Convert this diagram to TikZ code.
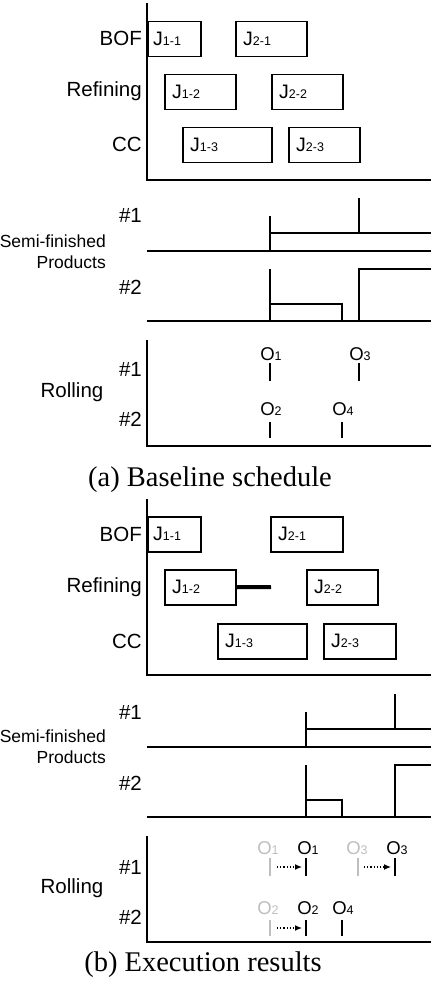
\documentclass[tikz,border=0pt]{standalone}
\usepackage{fontspec}
\setmainfont{Liberation Serif}
\setsansfont{Liberation Sans}
\usepackage{tikz}
\usetikzlibrary{arrows.meta}
\definecolor{ghostgray}{RGB}{190,190,190}
\newcommand{\sbs}[1]{{\fontsize{12.5}{12.5}\selectfont #1}}
\tikzset{
  baseaxis/.style={line width=2pt},
  jobbox/.style={draw, line width=1.5pt, anchor=north west, minimum height=35pt, inner sep=0pt},
  jtext/.style={anchor=west, xshift=8pt, inner sep=0pt, font=\sffamily\fontsize{19.5}{19.5}\selectfont},
  rowlab/.style={anchor=east, inner sep=0pt, font=\sffamily\fontsize{20.5}{20.5}\selectfont},
  semilab/.style={anchor=east, inner sep=0pt, align=right, font=\sffamily\fontsize{17.5}{21}\selectfont},
  stock/.style={line width=1.3pt},
  olab/.style={inner sep=0pt, font=\sffamily\fontsize{18.5}{18.5}\selectfont},
  otick/.style={line width=1.6pt},
  ghost/.style={color=ghostgray},
  delay/.style={dotted, line width=1.2pt, -{Latex[length=7pt,width=6pt]}},
  capt/.style={inner sep=0pt, font=\fontsize{28.5}{28.5}\selectfont}
}

\begin{document}
\begin{tikzpicture}[x=1pt,y=-1pt]
\useasboundingbox (0,0) rectangle (432,992);

% (a) baseline schedule
\draw[baseaxis] (147,3) -- (147,180) -- (431,180);
\node[rowlab] (bofa) at (142,38) {BOF};
\node[rowlab] (refa) at (142,91) {Refining};
\node[rowlab] (cca) at (142,144) {CC};
\node[jobbox, minimum width=53pt] (j11a) at (147,21) {};
\node[jobbox, minimum width=71pt] (j21a) at (235,21) {};
\node[jobbox, minimum width=71pt] (j12a) at (164,74) {};
\node[jobbox, minimum width=71pt] (j22a) at (271,74) {};
\node[jobbox, minimum width=89pt] (j13a) at (182,127) {};
\node[jobbox, minimum width=71pt] (j23a) at (288,127) {};
\node[jtext, xshift=-2pt] at (j11a.west) {J\sbs{1-1}};
\node[jtext] at (j21a.west) {J\sbs{2-1}};
\node[jtext] at (j12a.west) {J\sbs{1-2}};
\node[jtext] at (j22a.west) {J\sbs{2-2}};
\node[jtext] at (j13a.west) {J\sbs{1-3}};
\node[jtext] at (j23a.west) {J\sbs{2-3}};

\node[rowlab] (s1a) at (142,215) {\#1};
\node[rowlab] (s2a) at (142,287) {\#2};
\node[semilab] (semia) at (106,252) {Semi-finished\\Products};
\draw[baseaxis] (147,251) -- (431,251);
\draw[baseaxis] (147,321) -- (431,321);
\draw[stock] (270,216) -- (270,251);
\draw[stock] (270,233) -- (431,233);
\draw[stock] (359,198) -- (359,233);
\draw[stock] (270,269) -- (270,321);
\draw[stock] (270,304) -| (342,321);
\draw[stock] (359,321) |- (431,269);

\draw[baseaxis] (147,340) -- (147,446) -- (431,446);
\node[rowlab] (r1a) at (142,369) {\#1};
\node[rowlab] (r2a) at (142,419) {\#2};
\node[rowlab, anchor=center] (rolla) at (72,392) {Rolling};
\node[olab] (o1a) at (271,354) {O\sbs{1}};
\node[olab] (o3a) at (360,354) {O\sbs{3}};
\node[olab] (o2a) at (271,409) {O\sbs{2}};
\node[olab] (o4a) at (343,409) {O\sbs{4}};
\draw[otick] (270,363) -- (270,381);
\draw[otick] (359,363) -- (359,381);
\draw[otick] (270,422) -- (270,438);
\draw[otick] (342,422) -- (342,438);
\node[capt] (capa) at (210,480) {(a) Baseline schedule};

% (b) execution results
\draw[baseaxis] (147,499) -- (147,675) -- (431,675);
\node[rowlab] (bofb) at (142,534) {BOF};
\node[rowlab] (refb) at (142,587) {Refining};
\node[rowlab] (ccb) at (142,641) {CC};
\node[jobbox, minimum width=53pt] (j11b) at (147,516) {};
\node[jobbox, minimum width=72pt] (j21b) at (270,516) {};
\node[jobbox, minimum width=71pt] (j12b) at (164,569) {};
\node[jobbox, minimum width=71pt] (j22b) at (306,569) {};
\node[jobbox, minimum width=89pt] (j13b) at (217,623) {};
\node[jobbox, minimum width=72pt] (j23b) at (323,623) {};
\node[jtext, xshift=-2pt] at (j11b.west) {J\sbs{1-1}};
\node[jtext] at (j21b.west) {J\sbs{2-1}};
\node[jtext] at (j12b.west) {J\sbs{1-2}};
\node[jtext] at (j22b.west) {J\sbs{2-2}};
\node[jtext] at (j13b.west) {J\sbs{1-3}};
\node[jtext] at (j23b.west) {J\sbs{2-3}};
\coordinate (waitend) at (271,587);
\draw[line width=4pt] (j12b.east) -- (waitend);

\node[rowlab] (s1b) at (142,712) {\#1};
\node[rowlab] (s2b) at (142,783) {\#2};
\node[semilab] (semib) at (106,747) {Semi-finished\\Products};
\draw[baseaxis] (147,747) -- (431,747);
\draw[baseaxis] (147,817) -- (431,817);
\draw[stock] (306,712) -- (306,747);
\draw[stock] (306,729) -- (431,729);
\draw[stock] (395,694) -- (395,729);
\draw[stock] (306,765) -- (306,817);
\draw[stock] (306,800) -| (342,817);
\draw[stock] (395,817) |- (431,765);

\draw[baseaxis] (147,836) -- (147,942) -- (431,942);
\node[rowlab] (r1b) at (142,867) {\#1};
\node[rowlab] (r2b) at (142,917) {\#2};
\node[rowlab, anchor=center] (rollb) at (72,888) {Rolling};
\node[olab, ghost] (o1g) at (268,848) {O\sbs{1}};
\node[olab] (o1b) at (308,848) {O\sbs{1}};
\node[olab, ghost] (o3g) at (357,848) {O\sbs{3}};
\node[olab] (o3b) at (397,848) {O\sbs{3}};
\node[olab, ghost] (o2g) at (268,908) {O\sbs{2}};
\node[olab] (o2b) at (308,908) {O\sbs{2}};
\node[olab] (o4b) at (343,908) {O\sbs{4}};
\draw[otick, ghost] (270,858) -- (270,876);
\draw[otick] (306,858) -- (306,876);
\draw[otick, ghost] (358,858) -- (358,876);
\draw[otick] (395,858) -- (395,876);
\draw[otick, ghost] (270,920) -- (270,936);
\draw[otick] (306,920) -- (306,936);
\draw[otick] (342,920) -- (342,936);
\coordinate (d1s) at (277,867);
\coordinate (d1e) at (302,867);
\coordinate (d3s) at (364,867);
\coordinate (d3e) at (391,867);
\coordinate (d2s) at (277,928);
\coordinate (d2e) at (302,928);
\draw[delay] (d1s) -- (d1e);
\draw[delay] (d3s) -- (d3e);
\draw[delay] (d2s) -- (d2e);
\node[capt] (capb) at (203,965) {(b) Execution results};
\end{tikzpicture}
\end{document}
